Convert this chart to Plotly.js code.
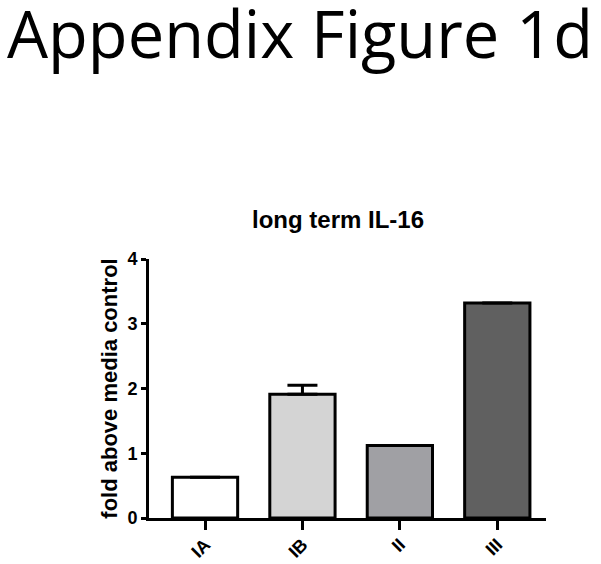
<!DOCTYPE html>
<html>
<head>
<meta charset="utf-8">
<script src="https://cdn.plot.ly/plotly-3.0.1.min.js"></script>
<style>
  html, body { margin: 0; padding: 0; background: #fff; }
  #chart { width: 601px; height: 564px; }
</style>
</head>
<body>
<div id="chart"></div>
<script>
// appendix fig 1d — long term IL-16, fold over media control
const groups = ['IA', 'IB', 'II', 'III'];
const foldValues = [0.63, 1.91, 1.12, 3.32];
const errUp = [null, 0.14, null, null];
const barColors = ['#ffffff', '#d4d4d4', '#a0a0a4', '#606060'];
const yTicks = [0, 1, 2, 3, 4];

const boldFont = { family: 'Liberation Sans, Arial, sans-serif', color: '#000', weight: 'bold' };

const trace = {
  type: 'bar',
  x: groups,
  y: foldValues,
  width: 0.67,
  marker: { color: barColors, line: { color: '#000', width: 3 } },
  error_y: {
    type: 'data', symmetric: false,
    array: errUp, arrayminus: errUp.map(() => null),
    color: '#000', thickness: 3, width: 15
  },
  hoverinfo: 'x+y'
};

const layout = {
  width: 601, height: 564,
  margin: { l: 149, r: 55, t: 259, b: 46 },
  paper_bgcolor: '#fff', plot_bgcolor: '#fff',
  showlegend: false,
  xaxis: {
    type: 'category', range: [-0.575, 3.5],
    showline: true, linewidth: 3, linecolor: '#000',
    ticks: 'outside', ticklen: 9, tickwidth: 3, tickcolor: '#000',
    tickangle: -45, tickfont: { ...boldFont, size: 18 }, ticklabelstandoff: -3,
    showgrid: false, zeroline: false, fixedrange: true
  },
  yaxis: {
    range: [0, 4], tickvals: yTicks, ticktext: yTicks.map(String),
    showline: true, linewidth: 3, linecolor: '#000',
    ticks: 'outside', ticklen: 5, tickwidth: 3, tickcolor: '#000',
    tickfont: { ...boldFont, size: 18 },
    title: { text: 'fold above media control', font: { ...boldFont, size: 22 }, standoff: 4 },
    showgrid: false, zeroline: false, fixedrange: true
  },
  annotations: [
    {
      text: 'long term IL-16', xref: 'paper', yref: 'paper',
      x: 0.475, y: 1, yshift: 40, showarrow: false,
      xanchor: 'center', yanchor: 'middle',
      font: { ...boldFont, size: 24 }
    },
    {
      text: 'Appendix Figure 1d', xref: 'paper', yref: 'paper',
      x: 0.3816, y: 1, yshift: 226, showarrow: false,
      xanchor: 'center', yanchor: 'middle',
      font: { family: 'Open Sans, sans-serif', size: 65, color: '#000' }
    }
  ]
};

Plotly.newPlot('chart', [trace], layout, { displayModeBar: false, staticPlot: true });
</script>
</body>
</html>
